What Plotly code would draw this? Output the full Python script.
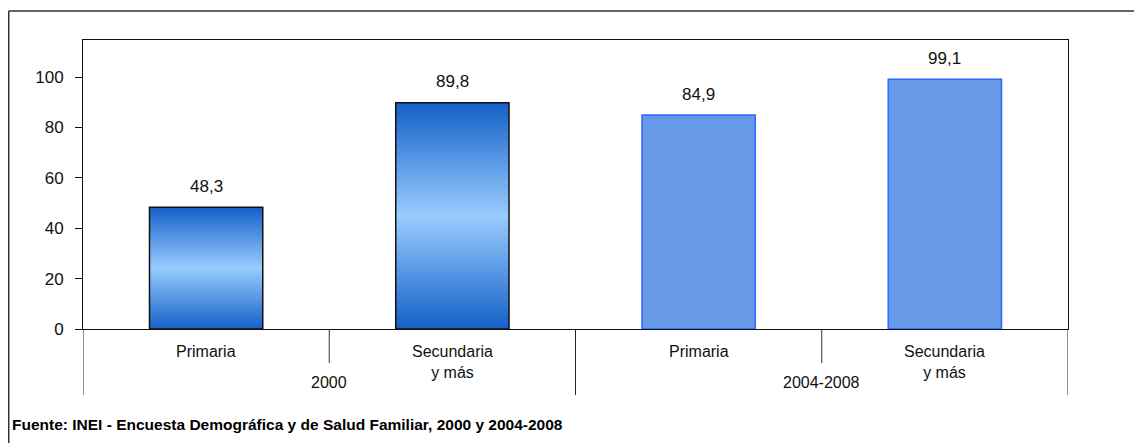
import plotly.graph_objects as go

# datos
periodos = ["2000", "2004-2008"]
niveles = ["Primaria", "Secundaria<br>y más"]
valores_2000 = [48.3, 89.8]
valores_2004 = [84.9, 99.1]
fuente = "Fuente: INEI - Encuesta Demográfica y de Salud Familiar, 2000 y 2004-2008"

FONT = "Liberation Sans, Arial"
ancho = 0.46

fig = go.Figure()

# barras 2000 con degradado (poligonos rellenos)
for i, v in enumerate(valores_2000):
    x0, x1 = i - ancho / 2, i + ancho / 2
    fig.add_trace(go.Scatter(
        x=[x0, x0, x1, x1, x0], y=[0, v, v, 0, 0],
        mode="lines", fill="toself",
        fillgradient=dict(type="vertical",
                          colorscale=[[0, "#1560C8"], [0.5, "#99CCFF"], [1, "#1560C8"]]),
        line=dict(color="#111111", width=1.5),
        hoverinfo="skip", showlegend=False))

# barras 2004-2008
fig.add_trace(go.Bar(
    x=[2, 3], y=valores_2004, width=ancho,
    marker=dict(color="#6699E8", line=dict(color="#3366FF", width=1.5)),
    showlegend=False))

# etiquetas de datos
todos = valores_2000 + valores_2004
for i, v in enumerate(todos):
    fig.add_annotation(x=i, y=v, text=f"{v:.1f}".replace(".", ","),
                       showarrow=False, yshift=21, yanchor="middle",
                       font=dict(family=FONT, size=17, color="#111111"))

# etiquetas de categoria
for g, p in enumerate(periodos):
    for j, n in enumerate(niveles):
        fig.add_annotation(x=g * 2 + j, y=0, yref="y", text=n, showarrow=False,
                           yanchor="top", yshift=-12,
                           font=dict(family=FONT, size=16, color="#111111"))
    fig.add_annotation(x=g * 2 + 0.5, y=0, text=p, showarrow=False,
                       yanchor="middle", yshift=-53,
                       font=dict(family=FONT, size=16, color="#111111"))
    # divisores
    fig.add_shape(type="line", x0=g * 2 + 0.5, x1=g * 2 + 0.5, y0=0, y1=-0.1176,
                  xref="x", yref="paper", line=dict(color="#333333", width=1))
for xd in [-0.5, 1.5, 3.5]:
    fig.add_shape(type="line", x0=xd, x1=xd, y0=0, y1=-0.228,
                  xref="x", yref="paper", line=dict(color="#222222", width=1))

# marco exterior (izquierda y arriba)
fig.add_shape(type="line", xref="paper", yref="paper", x0=-0.0754, x1=-0.0754,
              y0=1.1003, y1=-0.5, line=dict(color="#333333", width=1.5))
fig.add_shape(type="line", xref="paper", yref="paper", x0=-0.0754, x1=1.2,
              y0=1.1003, y1=1.1003, line=dict(color="#333333", width=1.5))

fig.add_annotation(text=fuente, xref="paper", yref="paper", x=-0.0741, y=-0.332,
                   xanchor="left", yanchor="middle", showarrow=False,
                   font=dict(family=FONT, size=15.5, color="#000000", weight="bold"))

# la pagina tiene 8px de margen, se resta al tamaño
fig.update_layout(
    width=1134, height=435,
    margin=dict(l=75, r=74, t=32, b=114),
    paper_bgcolor="white", plot_bgcolor="white",
    font=dict(family=FONT, size=16, color="#111111"),
    xaxis=dict(range=[-0.5, 3.5], showticklabels=False, showgrid=False, zeroline=False,
               showline=True, linecolor="#111111", linewidth=1, mirror=True, ticks=""),
    yaxis=dict(range=[0, 114.7], tickvals=[0, 20, 40, 60, 80, 100], showgrid=False,
               zeroline=False, showline=True, linecolor="#111111", linewidth=1, mirror=True,
               ticks="outside", ticklen=7, tickcolor="#111111", ticklabelstandoff=8,
               tickfont=dict(family=FONT, size=17, color="#111111")),
)

fig.write_html("out.html")
